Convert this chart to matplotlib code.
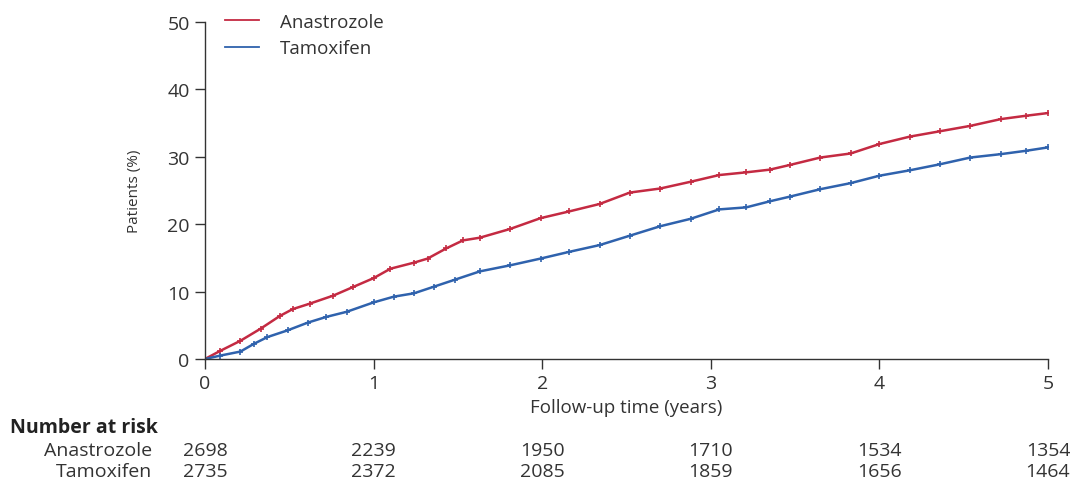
import matplotlib
matplotlib.use("Agg")
import matplotlib.pyplot as plt

plt.rcParams['font.family'] = ['Open Sans', 'DejaVu Sans']

# cumulative incidence (%) vs follow-up time (years)
years_ana = [0, 0.09, 0.21, 0.33, 0.445, 0.52, 0.62, 0.76, 0.88, 1.0, 1.1, 1.24,
             1.32, 1.43, 1.53, 1.63, 1.81, 1.99, 2.16, 2.34, 2.52, 2.70, 2.88,
             3.05, 3.21, 3.35, 3.47, 3.65, 3.83, 4.0, 4.18, 4.36, 4.54, 4.72,
             4.87, 5.0]
anastrozole = [0, 1.2, 2.7, 4.5, 6.4, 7.4, 8.2, 9.4, 10.7, 12.0, 13.4, 14.3,
               14.9, 16.4, 17.6, 18.0, 19.3, 20.9, 21.9, 23.0, 24.7, 25.3, 26.3,
               27.3, 27.7, 28.1, 28.8, 29.9, 30.5, 31.9, 33.0, 33.8, 34.6, 35.6,
               36.1, 36.5]

years_tam = [0, 0.09, 0.21, 0.29, 0.37, 0.49, 0.61, 0.72, 0.84, 1.0, 1.12, 1.24,
             1.36, 1.48, 1.63, 1.81, 1.99, 2.16, 2.34, 2.52, 2.70, 2.88, 3.05,
             3.21, 3.35, 3.47, 3.65, 3.83, 4.0, 4.18, 4.36, 4.54, 4.72, 4.87, 5.0]
tamoxifen = [0, 0.5, 1.1, 2.25, 3.25, 4.25, 5.4, 6.25, 7.0, 8.4, 9.25, 9.75,
             10.75, 11.75, 13.0, 13.9, 14.9, 15.9, 16.9, 18.3, 19.7, 20.8, 22.2,
             22.5, 23.4, 24.1, 25.2, 26.1, 27.2, 28.0, 28.9, 29.9, 30.4, 30.9,
             31.4]

risk_times = [0, 1, 2, 3, 4, 5]
risk_anastrozole = [2698, 2239, 1950, 1710, 1534, 1354]
risk_tamoxifen = [2735, 2372, 2085, 1859, 1656, 1464]

red = '#c42a42'
blue = '#2f62ad'
grey = '#333333'

fig = plt.figure(figsize=(10.7, 4.81), dpi=100)
ax = fig.add_axes([0.1916, 0.2516, 0.7878, 0.7004])

l1, = ax.plot(years_ana, anastrozole, color=red, lw=1.8, label='Anastrozole')
l2, = ax.plot(years_tam, tamoxifen, color=blue, lw=1.8, label='Tamoxifen')
# censor marks
ax.plot(years_ana, anastrozole, ls='none', color=red, marker='+', ms=5, mew=1.2)
ax.plot(years_tam, tamoxifen, ls='none', color=blue, marker='+', ms=5, mew=1.2)

ax.set_xlim(0, 5)
ax.set_ylim(0, 50)
ax.set_xticks(risk_times)
ax.set_yticks([0, 10, 20, 30, 40, 50])
for s in ['top', 'right']:
    ax.spines[s].set_visible(False)
for s in ['left', 'bottom']:
    ax.spines[s].set_color(grey)
    ax.spines[s].set_linewidth(1.0)
ax.tick_params(direction='out', length=7, width=1.0, colors=grey,
               labelsize=14, pad=4)
ax.set_ylabel('Patients (%)', fontsize=11, color=grey, labelpad=18)
ax.set_xlabel('Follow-up time (years)', fontsize=13.5, color=grey, labelpad=4)

leg = ax.legend(handles=[l1, l2], loc='upper left', bbox_to_anchor=(0.015, 1.05),
                frameon=False, fontsize=13.5, handlelength=1.8,
                handletextpad=1.1, labelspacing=0.45, borderaxespad=0)
for t in leg.get_texts():
    t.set_color(grey)
for h in leg.get_lines():
    h.set_linewidth(1.3)

# number at risk table
tr = ax.get_xaxis_transform()
fig.text(0.009, 1 - 428 / 481, 'Number at risk', fontsize=14, fontweight='bold',
         color='#222222', va='center', ha='left')
fig.text(152 / 1070, 1 - 451 / 481, 'Anastrozole', fontsize=14, color=grey,
         va='center', ha='right')
fig.text(152 / 1070, 1 - 472 / 481, 'Tamoxifen', fontsize=14, color=grey,
         va='center', ha='right')
for t, a, b in zip(risk_times, risk_anastrozole, risk_tamoxifen):
    ax.text(t, -(451 - 360) / 337, str(a), transform=tr, fontsize=14, color=grey,
            ha='center', va='center', clip_on=False)
    ax.text(t, -(472 - 360) / 337, str(b), transform=tr, fontsize=14, color=grey,
            ha='center', va='center', clip_on=False)

fig.savefig('out.png', dpi=100)
